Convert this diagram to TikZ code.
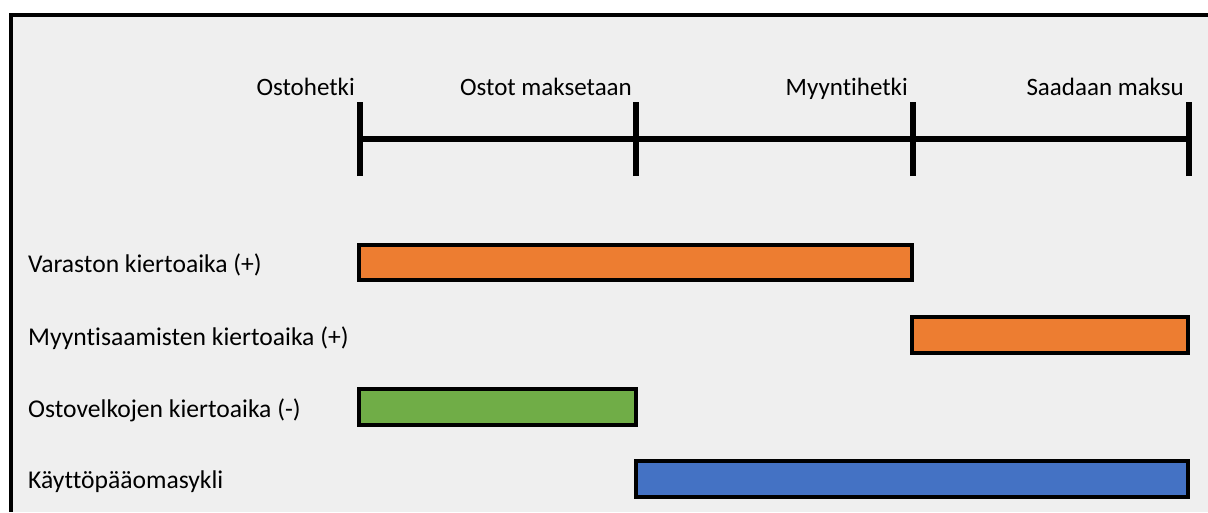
\documentclass[tikz,border=0pt]{standalone}
\usepackage{fontspec}
\setmainfont{Carlito}[Ligatures=NoCommon]
\definecolor{bggray}{HTML}{EFEFEF}
\definecolor{barorange}{HTML}{ED7D31}
\definecolor{bargreen}{HTML}{70AD47}
\definecolor{barblue}{HTML}{4472C4}
\begin{document}
\begin{tikzpicture}[x=1pt,y=-1pt,
  lbl/.style={font=\fontsize{25}{30}\selectfont, inner sep=0pt},
  toplbl/.style={lbl, anchor=base east},
  leftlbl/.style={inner sep=0pt, font=\fontsize{25.6}{30}\selectfont, anchor=base west},
  bar/.style={draw=black, line width=4pt},
  tickline/.style={line width=6pt},
  axisline/.style={line width=6pt}]
\useasboundingbox (0,0) rectangle (1208,512);
\fill[white] (0,0) rectangle (1208,512);
\fill[bggray] (11,15) rectangle (1208,512);
\draw[line width=4pt] (9,15) -- (1208,15);
\draw[line width=4pt] (11,13) -- (11,512);
% ticks
\coordinate (t1) at (360,139);
\coordinate (t2) at (636,139);
\coordinate (t3) at (913,139);
\coordinate (t4) at (1189,139);
\draw[axisline] (t1) -- (t4);
\foreach \t in {t1,t2,t3,t4}{
  \draw[tickline] ([yshift=-37pt]\t) -- ([yshift=37pt]\t);
}
% top labels
\node[toplbl] (l1) at (355,95) {Ostohetki};
\node[toplbl] (l2) at (632,95) {Ostot maksetaan};
\node[toplbl] (l3) at (908,95) {Myyntihetki};
\node[toplbl] (l4) at (1184,95) {Saadaan maksu};
% bars
\draw[bar, fill=barorange] (359,245) rectangle (912,280);
\draw[bar, fill=barorange] (912,317) rectangle (1188,353);
\draw[bar, fill=bargreen] (359,389) rectangle (636,425);
\draw[bar, fill=barblue] (636,461) rectangle (1188,497);
% left labels
\node[leftlbl] (r1) at (28,272) {Varaston kiertoaika (+)};
\node[leftlbl] (r2) at (28,345) {Myyntisaamisten kiertoaika (+)};
\node[leftlbl] (r3) at (28,417) {Ostovelkojen kiertoaika (-)};
\node[leftlbl] (r4) at (28,488) {Käyttöpääomasykli};
\end{tikzpicture}
\end{document}
